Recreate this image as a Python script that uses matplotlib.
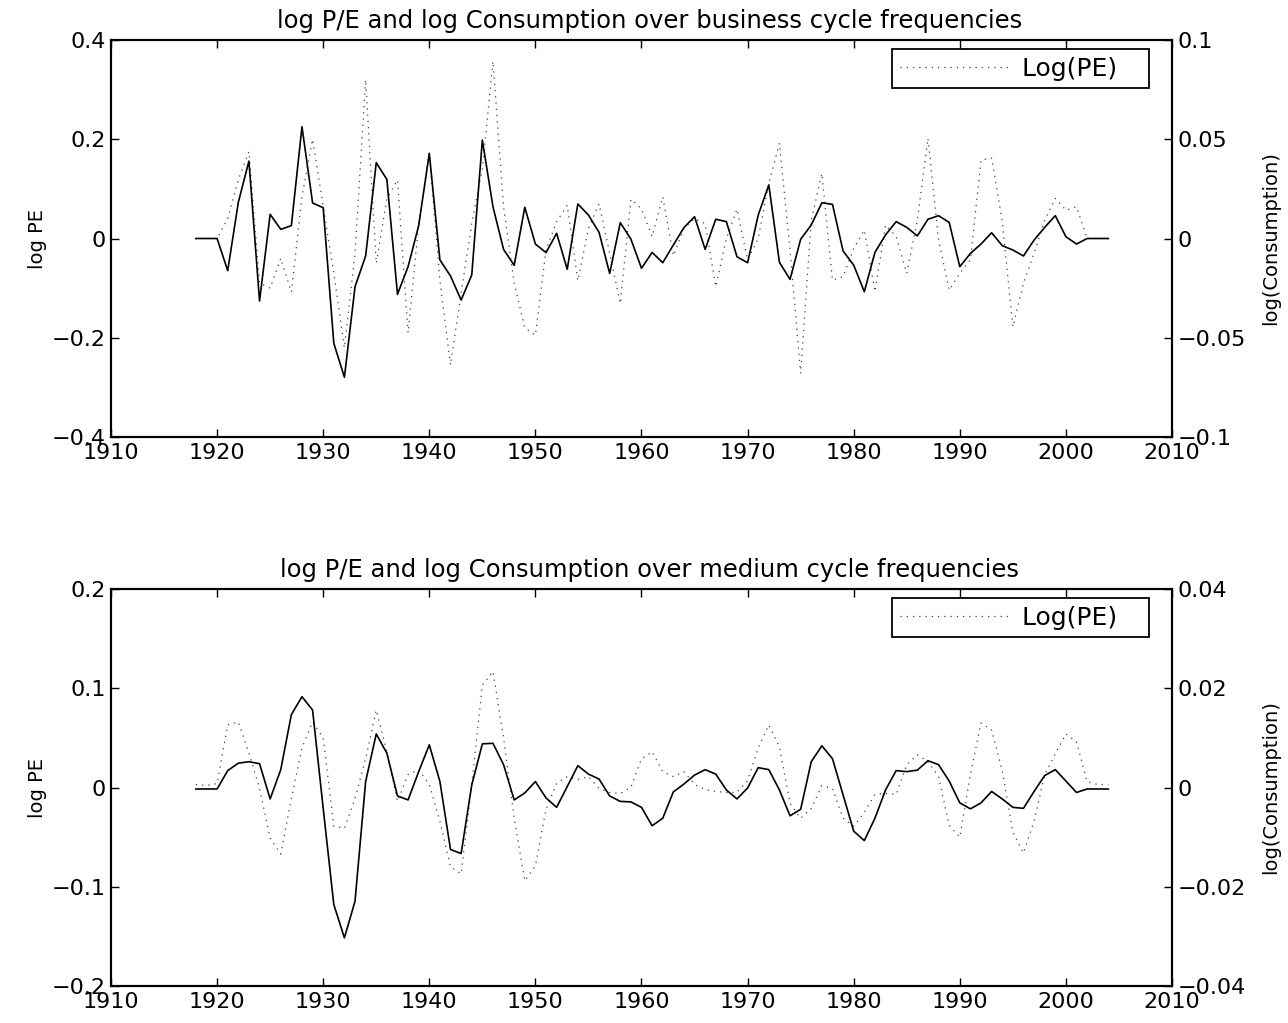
import numpy as np
import matplotlib
matplotlib.use('Agg')
import matplotlib.pyplot as plt

plt.rcParams['font.family'] = ['DejaVu Sans']

years = np.arange(1918, 2005)

# business cycle band (1918-2004)
pe_bc = [0.0, 0.0, 0.0, 0.04, 0.118, 0.175, -0.09, -0.10, -0.04, -0.108,
         0.085, 0.20, 0.065, -0.07, -0.22, -0.03, 0.32, -0.05, 0.08, 0.118,
         -0.19, 0.03, 0.172, -0.085, -0.255, -0.11, 0.03, 0.14, 0.357, 0.064,
         -0.09, -0.18, -0.195, -0.023, 0.034, 0.067, -0.085, 0.02, 0.07, -0.03,
         -0.131, 0.079, 0.06, 0.004, 0.084, -0.035, 0.02, 0.04, 0.03, -0.097,
         0.0, 0.059, -0.043, 0.0, 0.111, 0.192, -0.023, -0.272, 0.037, 0.131,
         -0.084, -0.077, -0.02, 0.017, -0.107, 0.027, 0.004, -0.07, 0.037, 0.202,
         -0.003, -0.104, -0.07, -0.043, 0.158, 0.162, 0.035, -0.178, -0.09, -0.03,
         0.037, 0.081, 0.057, 0.064, 0.0, 0.0, 0.0]
cons_bc = [0.0, 0.0, 0.0, -0.0162, 0.0182, 0.039, -0.0315, 0.0122, 0.0046, 0.0065,
           0.0563, 0.0179, 0.0155, -0.0528, -0.0699, -0.0243, -0.0088, 0.0382, 0.0298, -0.0281,
           -0.0142, 0.0065, 0.0429, -0.0108, -0.0189, -0.031, -0.0184, 0.0496, 0.016, -0.0055,
           -0.0135, 0.0157, -0.0028, -0.0071, 0.0026, -0.0155, 0.0174, 0.0118, 0.0031, -0.0176,
           0.008, -0.0003, -0.015, -0.007, -0.0122, -0.0033, 0.0055, 0.011, -0.0055, 0.0097,
           0.0085, -0.0092, -0.0122, 0.0118, 0.027, -0.012, -0.0206, -0.0004, 0.0068, 0.018,
           0.0172, -0.0063, -0.0134, -0.0268, -0.007, 0.0018, 0.0085, 0.0056, 0.0013, 0.0097,
           0.0115, 0.0081, -0.0142, -0.0075, -0.0028, 0.0029, -0.0036, -0.0058, -0.0088, -0.0008,
           0.0056, 0.0115, 0.0009, -0.0028, 0.0, 0.0, 0.0]

# medium cycle band
pe_mc = [0.003, 0.002, 0.004, 0.063, 0.066, 0.035, -0.001, -0.051, -0.067, -0.011,
         0.04, 0.066, 0.05, -0.039, -0.041, -0.011, 0.029, 0.078, 0.036, -0.014,
         0.013, 0.018, 0.003, -0.034, -0.08, -0.087, 0.003, 0.103, 0.117, 0.05,
         -0.031, -0.094, -0.079, -0.022, 0.004, 0.011, 0.008, 0.011, -0.001, -0.005,
         -0.006, 0.0, 0.029, 0.036, 0.016, 0.011, 0.016, 0.003, -0.002, -0.004,
         -0.005, -0.005, 0.007, 0.04, 0.063, 0.041, -0.016, -0.031, -0.021, 0.002,
         -0.001, -0.031, -0.039, -0.025, -0.007, -0.006, -0.007, 0.023, 0.033, 0.026,
         0.011, -0.038, -0.05, 0.013, 0.065, 0.058, 0.017, -0.045, -0.066, -0.034,
         0.013, 0.034, 0.054, 0.046, 0.006, 0.003, 0.003]
cons_mc = [-0.0003, -0.0003, -0.0003, 0.0034, 0.0049, 0.0052, 0.0048, -0.0023, 0.0036, 0.0147,
           0.0183, 0.0156, -0.0042, -0.0236, -0.0303, -0.0229, 0.0012, 0.0108, 0.0069, -0.0017,
           -0.0025, 0.0032, 0.0086, 0.0012, -0.0125, -0.0133, 0.0005, 0.0088, 0.0089, 0.0046,
           -0.0025, -0.0011, 0.0012, -0.0021, -0.004, 0.0002, 0.0044, 0.0027, 0.0017, -0.0017,
           -0.0028, -0.0029, -0.004, -0.0077, -0.0062, -0.0009, 0.0007, 0.0025, 0.0036, 0.0027,
           -0.0005, -0.0023, -0.0001, 0.004, 0.0036, -0.0005, -0.0057, -0.0044, 0.0052, 0.0084,
           0.0058, -0.0015, -0.0088, -0.0107, -0.0062, -0.0005, 0.0034, 0.0032, 0.0035, 0.0054,
           0.0046, 0.0013, -0.0031, -0.0043, -0.0031, -0.0008, -0.0023, -0.004, -0.0042, -0.0008,
           0.0024, 0.0036, 0.0013, -0.001, -0.0003, -0.0003, -0.0003]

titles = ['log P/E and log Consumption over business cycle frequencies',
          'log P/E and log Consumption over medium cycle frequencies']
xticks = list(range(1910, 2011, 10))
left_ticks = [[0.4, 0.2, 0, -0.2, -0.4], [0.2, 0.1, 0, -0.1, -0.2]]
left_labels = [['0.4', '0.2', '0', '\u22120.2', '\u22120.4'],
               ['0.2', '0.1', '0', '\u22120.1', '\u22120.2']]
right_ticks = [[0.1, 0.05, 0, -0.05, -0.1], [0.04, 0.02, 0, -0.02, -0.04]]
right_labels = [['0.1', '0.05', '0', '\u22120.05', '\u22120.1'],
                ['0.04', '0.02', '0', '\u22120.02', '\u22120.04']]

fig = plt.figure(figsize=(12.88, 10.23), dpi=100)
W, H = 1288.0, 1023.0
boxes = [(111, 40, 1172, 437), (111, 589, 1172, 986)]
series = [(pe_bc, cons_bc), (pe_mc, cons_mc)]

for i in range(2):
    x0, y0, x1, y1 = boxes[i]
    ax = fig.add_axes([x0 / W, 1 - y1 / H, (x1 - x0) / W, (y1 - y0) / H])
    ax2 = ax.twinx()
    pe, cons = series[i]

    ax.plot(years, pe, color='0.25', lw=0.9, ls=(0, (1, 4)), label='Log(PE)   ')
    ax2.plot(years, cons, color='k', lw=1.2)

    ax.set_xlim(1910, 2010)
    ax.set_xticks(xticks)
    ax.set_xticklabels([str(t) for t in xticks])
    lt = left_ticks[i]
    ax.set_ylim(lt[-1], lt[0])
    ax.set_yticks(lt)
    ax.set_yticklabels(left_labels[i])
    rt = right_ticks[i]
    ax2.set_ylim(rt[-1], rt[0])
    ax2.set_yticks(rt)
    ax2.set_yticklabels(right_labels[i])

    ax.tick_params(direction='in', top=True, length=6, width=1, labelsize=16, pad=4)
    ax2.tick_params(direction='in', length=6, width=1, labelsize=16, pad=4)
    for a in (ax, ax2):
        for s in a.spines.values():
            s.set_linewidth(1.5)

    ax.set_title(titles[i], fontsize=17.5, pad=9, x=0.508)
    ax.set_ylabel('log PE', fontsize=14, labelpad=3)
    ax2.set_ylabel('log(Consumption)', fontsize=14, labelpad=11)

    leg = ax.legend(loc='upper right', bbox_to_anchor=(0.978, 0.977),
                    fancybox=False, edgecolor='k', framealpha=1, fontsize=18,
                    handlelength=4.4, handletextpad=0.5, borderpad=0.3,
                    borderaxespad=0)
    leg.get_frame().set_linewidth(1.3)

fig.savefig('out.png', dpi=100)
